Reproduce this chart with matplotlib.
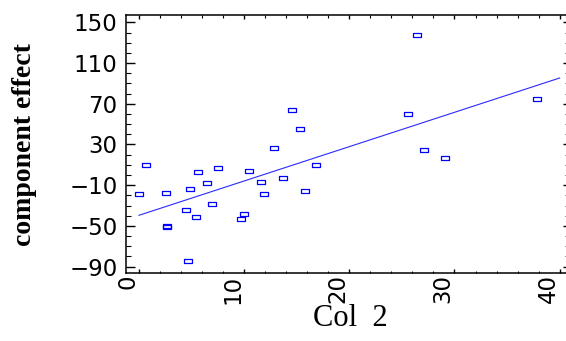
import matplotlib
matplotlib.use("Agg")
import matplotlib.pyplot as plt
import numpy as np
from matplotlib.path import Path
from matplotlib.ticker import MultipleLocator, FixedLocator

# ---- data ----
col2 = [0.0, 0.7, 2.57, 2.62, 2.70, 4.47, 4.63, 4.88, 5.42, 5.58, 6.44, 6.98, 7.52,
        9.71, 10.02, 10.47, 11.61, 11.93, 12.87, 13.70, 14.53, 15.29, 15.80, 16.84,
        25.60, 26.43, 27.10, 29.14, 37.81]
component_effect = [-18.7, 10.3, -17.4, -50.4, -51.2, -34.7, -84.8, -13.8, -41.6, 2.7, -8.2,
                    -28.8, 6.9, -43.5, -38.3, 4.2, -6.9, -18.4, 26.2, -2.9, 63.9, 45.2,
                    -15.7, 9.8, 60.2, 137.5, 24.9, 16.7, 74.7]
fit_x = [0.0, 40.0]
fit_y = [-39.6, 95.3]
x_ticks = [0, 10, 20, 30, 40]
y_ticks = [-90, -50, -10, 30, 70, 110, 150]

W, H, DPI = 566, 341, 100
fig = plt.figure(figsize=(W / DPI, H / DPI), dpi=DPI)
ax_h = 273 - 15.3
ax_w = 441
ax = fig.add_axes([126 / W, 68 / H, ax_w / W, ax_h / H])

rect = Path([(-1, -0.55), (1, -0.55), (1, 0.55), (-1, 0.55), (-1, -0.55)],
            [Path.MOVETO, Path.LINETO, Path.LINETO, Path.LINETO, Path.CLOSEPOLY])

ax.plot(col2, component_effect, linestyle='none', marker=rect, markersize=5.8,
        markerfacecolor='none', markeredgecolor='#0000ff', markeredgewidth=0.9)
ax.plot(fit_x, fit_y, color='#2a2aff', linewidth=0.8)

ax.set_xlim(-1.237, 40.7)
ax.set_ylim(-96.3, 156.9)

ax.xaxis.set_major_locator(FixedLocator(x_ticks))
ax.xaxis.set_minor_locator(MultipleLocator(2))
ax.yaxis.set_major_locator(FixedLocator(y_ticks))
ax.yaxis.set_minor_locator(MultipleLocator(10))

tick_font = dict(family='DejaVu Sans', size=16.5)
ax.set_xticklabels([str(v) for v in x_ticks], rotation=90, ha='right', va='top', **tick_font)
ax.set_yticklabels([str(v).replace('-', '\u2212') for v in y_ticks], **tick_font)

for s in ax.spines.values():
    s.set_linewidth(1.1)
ax.spines['right'].set_visible(False)

ax.tick_params(axis='x', which='major', direction='in', length=3.2, width=1.0,
               top=True, bottom=True, pad=1)
ax.tick_params(axis='x', which='minor', direction='in', length=1.8, width=0.8,
               top=True, bottom=True)
ax.tick_params(axis='y', which='major', direction='in', length=6.7, width=1.0,
               left=True, right=False, pad=6)
ax.tick_params(axis='y', which='minor', direction='in', length=3.6, width=0.8,
               left=True, right=False)

sec = ax.secondary_yaxis('right')
sec.yaxis.set_major_locator(FixedLocator(y_ticks))
sec.yaxis.set_minor_locator(MultipleLocator(10))
sec.tick_params(which='major', direction='in', length=3.0, width=1.0, labelright=False)
sec.tick_params(which='minor', direction='in', length=1.5, width=0.6, labelright=False)
sec.spines['right'].set_visible(False)

xl = ax.set_xlabel('Col  2', family='Liberation Serif', fontsize=22)
ax.xaxis.set_label_coords(0.5 + (350 - 346) / ax_w, -(318 - 273) / ax_h)
xl.set_va('center')

yl = ax.set_ylabel('component effect', family='Liberation Serif', fontweight='bold',
                   fontsize=20)
ax.yaxis.set_label_coords(-(126 - 25) / ax_w, 0.5)
yl.set_va('center')
yl.set_ha('center')

fig.savefig('out.png', dpi=DPI)
